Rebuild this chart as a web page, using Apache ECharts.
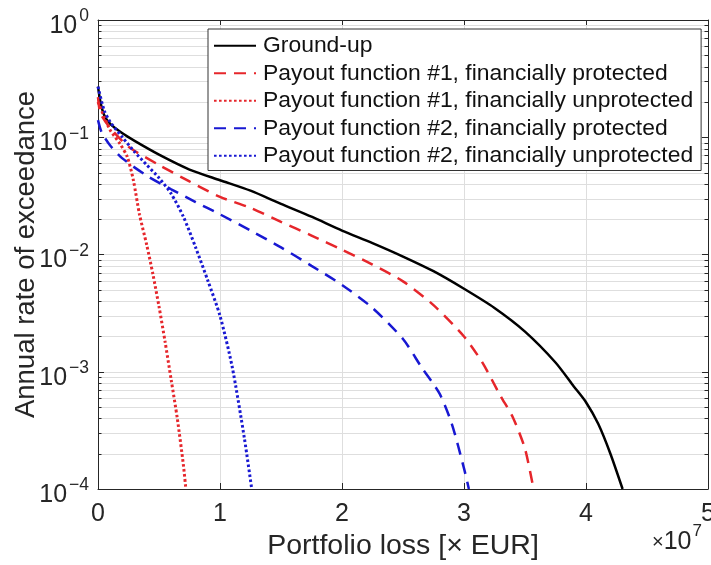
<!DOCTYPE html>
<html>
<head>
<meta charset="utf-8">
<script src="https://cdn.jsdelivr.net/npm/echarts@6/dist/echarts.min.js"></script>
<style>
  html, body { margin: 0; padding: 0; background: #ffffff; }
  #chart { width: 711px; height: 565px; }
</style>
</head>
<body>
<div id="chart"></div>
<script>
// Exceedance curves: portfolio loss (x 1e7 EUR) vs annual rate of exceedance
const seriesNames = [
  'Ground-up',
  'Payout function #1, financially protected',
  'Payout function #1, financially unprotected',
  'Payout function #2, financially protected',
  'Payout function #2, financially unprotected'
];

const groundUpX = [0, 0.02, 0.05, 0.1, 0.2, 0.3, 0.5, 0.75, 1.0, 1.25, 1.5, 1.75, 2.0, 2.25, 2.5, 2.75, 3.0, 3.25, 3.5, 3.75, 3.9, 4.0, 4.1, 4.2, 4.3];
const groundUpY = [0.27, 0.2, 0.155, 0.13, 0.108, 0.093, 0.071, 0.053, 0.043, 0.035, 0.027, 0.021, 0.016, 0.0125, 0.0096, 0.0072, 0.0051, 0.0035, 0.0022, 0.0012, 0.00075, 0.00055, 0.00036, 0.0002, 0.0001];

const pf1ProtX = [0, 0.02, 0.1, 0.25, 0.5, 0.75, 1.0, 1.25, 1.5, 1.75, 2.0, 2.25, 2.5, 2.75, 3.0, 3.15, 3.3, 3.4, 3.5, 3.57];
const pf1ProtY = [0.22, 0.16, 0.12, 0.083, 0.058, 0.042, 0.031, 0.025, 0.019, 0.0145, 0.011, 0.0082, 0.0059, 0.0037, 0.002, 0.0012, 0.00062, 0.00041, 0.00022, 0.0001];

const pf1UnprotX = [0, 0.05, 0.1, 0.18, 0.24, 0.29, 0.34, 0.4, 0.45, 0.5, 0.55, 0.6, 0.65, 0.7, 0.72];
const pf1UnprotY = [0.2, 0.15, 0.115, 0.088, 0.068, 0.043, 0.022, 0.012, 0.0068, 0.0036, 0.0018, 0.00085, 0.0004, 0.00016, 0.0001];

const pf2ProtX = [0, 0.03, 0.1, 0.2, 0.4, 0.6, 0.8, 1.0, 1.25, 1.5, 1.75, 2.0, 2.25, 2.5, 2.65, 2.8, 2.9, 3.0, 3.04];
const pf2ProtY = [0.14, 0.11, 0.085, 0.066, 0.047, 0.036, 0.028, 0.022, 0.016, 0.0115, 0.008, 0.0055, 0.0035, 0.0019, 0.0011, 0.00065, 0.00036, 0.00015, 0.0001];

const pf2UnprotX = [0, 0.05, 0.1, 0.2, 0.3, 0.4, 0.5, 0.6, 0.7, 0.8, 0.9, 1.0, 1.1, 1.2, 1.26];
const pf2UnprotY = [0.27, 0.17, 0.135, 0.1, 0.075, 0.058, 0.045, 0.033, 0.021, 0.0115, 0.006, 0.003, 0.0011, 0.00027, 0.0001];

// Minor (2..9 x 10^k) gridline positions on the log axis
const minorTicks = [];
for (let e = -4; e < 0; e++) {
  for (let m = 2; m <= 9; m++) minorTicks.push(+(m * Math.pow(10, e)).toPrecision(3));
}

const FONT = '"Liberation Sans", Arial, Helvetica, sans-serif';
const TXT = '#262626';
const GRIDC = '#dedede';
const RED = '#e6262b';
const BLUE = '#1818d2';

const zip = (xs, ys) => xs.map((x, i) => [x, ys[i]]);

// base "10" and raised exponent, both top-aligned inside a 27px line
const supRich = {
  b: { fontSize: 25, fontFamily: FONT, color: TXT, lineHeight: 27, padding: [7, 0, 0, 0], verticalAlign: 'top' },
  s: { fontSize: 17.5, fontFamily: FONT, color: TXT, lineHeight: 27, padding: [1, 0, 0, 2], verticalAlign: 'top' }
};

function lineSeries(name, xs, ys, color, type, width) {
  return {
    name: name,
    type: 'line',
    data: zip(xs, ys),
    showSymbol: false,
    symbol: 'none',
    smooth: 0.25,
    animation: false,
    z: 3,
    lineStyle: { color: color, width: width, type: type, cap: 'butt' },
    itemStyle: { color: color }
  };
}

const DASH = [12, 8];
const DOT = [2.6, 2.4];

const chart = echarts.init(document.getElementById('chart'), null, { renderer: 'canvas' });

chart.setOption({
  backgroundColor: '#ffffff',
  animation: false,
  grid: { left: 98, top: 20, width: 610, height: 469, containLabel: false, outerBoundsMode: 'none' },
  legend: {
    orient: 'vertical',
    left: 208,
    top: 29,
    padding: [3, 8, 1, 5],
    itemWidth: 42,
    itemHeight: 14,
    itemGap: 0,
    backgroundColor: '#ffffff',
    borderColor: '#333333',
    borderWidth: 1,
    borderRadius: 0,
    selectedMode: false,
    itemStyle: { opacity: 0 },
    textStyle: { fontFamily: FONT, fontSize: 22.9, color: '#111111', lineHeight: 27.5, padding: [0, 0, 0, 2] },
    data: seriesNames
  },
  xAxis: [
    {
      type: 'value', min: 0, max: 5, interval: 1, position: 'bottom',
      name: 'Portfolio loss [× EUR]', nameLocation: 'middle', nameGap: 43,
      nameMoveOverlap: false,
      nameTextStyle: { fontFamily: FONT, fontSize: 28.5, color: TXT },
      axisLine: { show: true, onZero: false, lineStyle: { color: TXT, width: 1 } },
      axisTick: { show: true, inside: true, length: 6, lineStyle: { color: TXT } },
      axisLabel: { fontFamily: FONT, fontSize: 25, color: TXT, margin: 13 },
      splitLine: { show: true, lineStyle: { color: GRIDC, width: 1 } }
    },
    {
      type: 'value', min: 0, max: 5, interval: 1, position: 'top',
      axisLine: { show: true, onZero: false, lineStyle: { color: TXT, width: 1 } },
      axisTick: { show: true, inside: true, length: 6, lineStyle: { color: TXT } },
      axisLabel: { show: false },
      splitLine: { show: false }
    }
  ],
  yAxis: [
    {
      type: 'log', logBase: 10, min: 1e-4, max: 1, interval: 1, position: 'left',
      name: 'Annual rate of exceedance', nameLocation: 'middle', nameGap: 58,
      nameMoveOverlap: false,
      nameTextStyle: { fontFamily: FONT, fontSize: 27.5, color: TXT },
      axisLine: { show: true, onZero: false, lineStyle: { color: TXT, width: 1 } },
      axisTick: { show: true, inside: true, length: 6, lineStyle: { color: TXT } },
      axisLabel: {
        margin: 9,
        formatter: function (v) {
          const e = Math.round(Math.log10(v));
          return '{b|10}{s|' + (e < 0 ? '\u2212' + (-e) : e) + '}';
        },
        rich: supRich
      },
      splitLine: { show: true, lineStyle: { color: GRIDC, width: 1 } }
    },
    {
      type: 'log', logBase: 10, min: 1e-4, max: 1, interval: 1, position: 'right',
      axisLine: { show: true, onZero: false, lineStyle: { color: TXT, width: 1 } },
      axisTick: { show: true, inside: true, length: 6, lineStyle: { color: TXT } },
      axisLabel: { show: false },
      splitLine: { show: false }
    }
  ],
  series: [
    {
      // minor gridlines with short inward ticks on both vertical borders
      type: 'custom',
      silent: true,
      z: 1,
      xAxisIndex: 0,
      yAxisIndex: 0,
      data: minorTicks.map(v => [0, v]),
      renderItem: function (params, api) {
        const cs = params.coordSys;
        const y = Math.round(api.coord([0, api.value(1)])[1]) + 0.5;
        const x0 = cs.x, x1 = cs.x + cs.width;
        return {
          type: 'group',
          children: [
            { type: 'line', shape: { x1: x0, y1: y, x2: x1, y2: y }, style: { stroke: GRIDC, lineWidth: 1 } },
            { type: 'line', shape: { x1: x0, y1: y, x2: x0 + 3.5, y2: y }, style: { stroke: TXT, lineWidth: 1 } },
            { type: 'line', shape: { x1: x1 - 3.5, y1: y, x2: x1, y2: y }, style: { stroke: TXT, lineWidth: 1 } }
          ]
        };
      }
    },
    lineSeries(seriesNames[0], groundUpX, groundUpY, '#000000', 'solid', 2.5),
    lineSeries(seriesNames[1], pf1ProtX, pf1ProtY, RED, DASH, 2.5),
    lineSeries(seriesNames[2], pf1UnprotX, pf1UnprotY, RED, DOT, 3),
    lineSeries(seriesNames[3], pf2ProtX, pf2ProtY, BLUE, DASH, 2.5),
    lineSeries(seriesNames[4], pf2UnprotX, pf2UnprotY, BLUE, DOT, 3)
  ],
  graphic: [
    {
      type: 'text',
      left: 652,
      top: 523,
      silent: true,
      style: {
        text: '{m|×}{b|10}{s|7}',
        rich: {
          m: { fontSize: 20, fontFamily: FONT, fill: TXT, lineHeight: 27, padding: [9, 0, 0, 0], verticalAlign: 'top' },
          b: { fontSize: 25, fontFamily: FONT, fill: TXT, lineHeight: 27, padding: [7, 0, 0, 0], verticalAlign: 'top' },
          s: { fontSize: 17, fontFamily: FONT, fill: TXT, lineHeight: 27, padding: [0, 0, 0, 1], verticalAlign: 'top' }
        }
      }
    }
  ]
});
</script>
</body>
</html>
